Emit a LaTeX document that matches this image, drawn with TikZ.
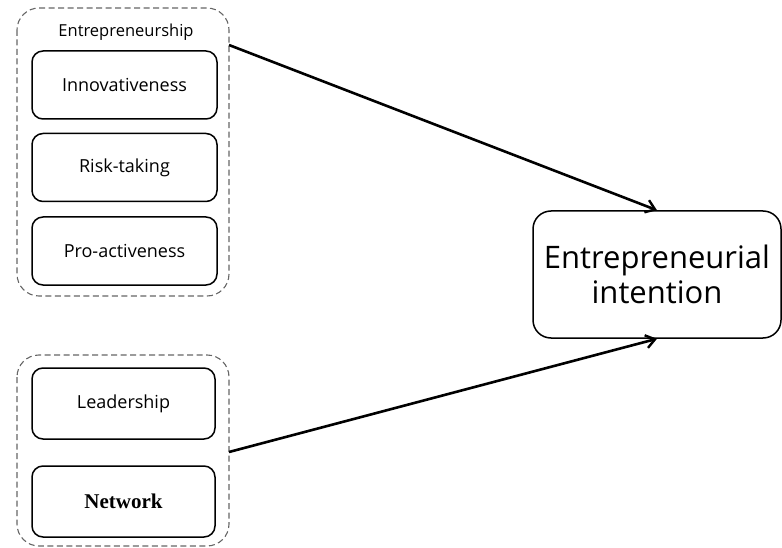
\documentclass[tikz,border=0pt]{standalone}
\usepackage{fontspec}
\setmainfont{Open Sans}
\newfontfamily\serifbold{Liberation Serif}
\usetikzlibrary{arrows.meta}
\begin{document}
\begin{tikzpicture}[x=1pt,y=-1pt,
  group/.style={draw=black!60,line width=1.1pt,rounded corners=22pt,dash pattern=on 6pt off 3.5pt},
  item/.style={draw=black,line width=1.5pt,rounded corners=11pt,minimum width=185pt,minimum height=68pt,inner sep=0pt,font=\fontsize{18}{21}\selectfont},
  conn/.style={line width=2.6pt,-{Straight Barb[length=9pt,width=13pt,line width=2.4pt]}}]
\useasboundingbox (0,0) rectangle (782,548);
\draw[group] (17,8) rectangle (229,296);
\node[font=\fontsize{16.5}{19}\selectfont] (lbl) at (126,32) {Entrepreneurship};
\node[item] (inn) at (124.5,85) {Innovativeness};
\node[item] (risk) at (124.5,167.5) {Risk-taking};
\node[item] (pro) at (124.5,251) {Pro-activeness};
\draw[group] (17,355) rectangle (229,546);
\node[item,minimum width=183pt,minimum height=71pt] (lead) at (123.5,403.5) {Leadership};
\node[item,minimum width=183pt,minimum height=71pt,font=\serifbold\bfseries\fontsize{21}{24}\selectfont] (net) at (123.5,501.5) {Network};
\node[draw=black,line width=1.5pt,rounded corners=18pt,minimum width=248pt,minimum height=127pt,inner sep=0pt,align=center,font=\fontsize{31}{35}\selectfont] (ei) at (657,274.5) {Entrepreneurial\\intention};
\coordinate (a1) at (229,45);
\coordinate (a2) at (229,452);
\draw[conn] (a1) -- (ei.north);
\draw[conn] (a2) -- (ei.south);
\end{tikzpicture}
\end{document}
